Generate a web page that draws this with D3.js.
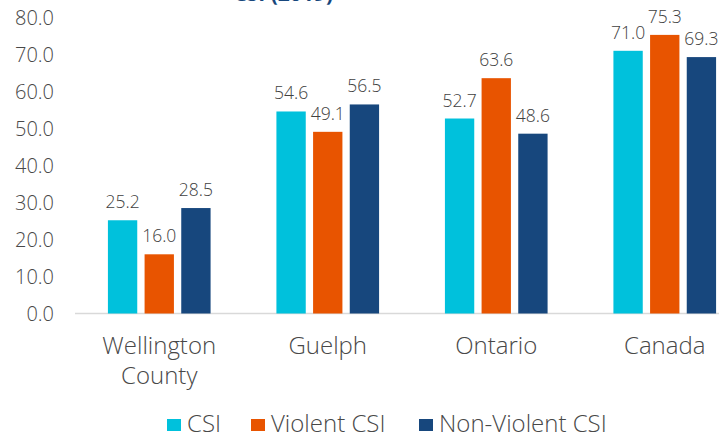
<!DOCTYPE html>
<meta charset="utf-8">
<head>
<style>
body { margin: 0; background: #fff; }
text { font-family: "Open Sans", Lato, sans-serif; font-weight: 300; fill: #484848; }
.tick text { font-size: 20px; font-family: "Open Sans", sans-serif; }
.cat { font-size: 24px; text-anchor: middle; }
.val { font-size: 17.5px; text-anchor: middle; fill: #404040; }
.legend text { font-size: 24px; }
.title { font-size: 21px; font-weight: bold; fill: #17477d; text-anchor: end; }
</style>
<script src="https://d3js.org/d3.v7.min.js"></script>
</head>
<body>
<svg width="719" height="438"></svg>
<script>

var categories = [["Wellington", "County"], ["Guelph"], ["Ontario"], ["Canada"]];
var series = ["CSI", "Violent CSI", "Non-Violent CSI"];
var csi = [25.2, 54.6, 52.7, 71.0];
var violent = [16.0, 49.1, 63.6, 75.3];
var nonViolent = [28.5, 56.5, 48.6, 69.3];
var colors = ["#00c1dc", "#e85400", "#17477d"];
var yTicks = [0, 10, 20, 30, 40, 50, 60, 70, 80];

var svg = d3.select("svg");
var values = [csi, violent, nonViolent];

var x0 = d3.scaleBand()
    .domain(d3.range(categories.length))
    .range([75, 749]);

var x1 = d3.scaleBand()
    .domain(d3.range(series.length))
    .range([0, 110])
    .paddingInner(0.2)
    .paddingOuter(0.1);

var y = d3.scaleLinear()
    .domain([0, 80])
    .range([313.5, 17.5]);

// title, mostly cut off at top
svg.append("text")
    .attr("class", "title")
    .attr("x", 333)
    .attr("y", 1)
    .text("CSI (2019)");

// y axis (labels only)
var yAxis = svg.append("g")
    .attr("transform", "translate(54,0)")
    .call(d3.axisLeft(y).tickValues(yTicks).tickFormat(d3.format(".1f")).tickSize(0).tickPadding(0));
yAxis.select(".domain").remove();
yAxis.selectAll(".tick text").attr("dy", "0.36em");

// baseline
svg.append("line")
    .attr("x1", 75).attr("x2", 719)
    .attr("y1", y(0)).attr("y2", y(0))
    .attr("stroke", "#d9d9d9")
    .attr("stroke-width", 1.5);

var group = svg.append("g")
  .selectAll("g")
  .data(categories)
  .enter().append("g")
    .attr("transform", function(d, i) { return "translate(" + (x0(i) + x0.bandwidth() / 2 - 55) + ",0)"; });

group.selectAll("rect")
  .data(function(d, i) { return series.map(function(s, j) { return {j: j, v: values[j][i]}; }); })
  .enter().append("rect")
    .attr("x", function(d) { return x1(d.j); })
    .attr("width", x1.bandwidth())
    .attr("y", function(d) { return y(d.v); })
    .attr("height", function(d) { return y(0) - y(d.v); })
    .attr("fill", function(d) { return colors[d.j]; });

group.selectAll(".val")
  .data(function(d, i) { return series.map(function(s, j) { return {j: j, v: values[j][i]}; }); })
  .enter().append("text")
    .attr("class", "val")
    .attr("x", function(d) { return x1(d.j) + x1.bandwidth() / 2; })
    .attr("y", function(d) { return y(d.v) - 12; })
    .text(function(d) { return d3.format(".1f")(d.v); });

// category labels
svg.append("g")
  .selectAll("text")
  .data(categories)
  .enter().append("text")
    .attr("class", "cat")
    .attr("x", function(d, i) { return x0(i) + x0.bandwidth() / 2; })
    .attr("y", 354)
  .selectAll("tspan")
  .data(function(d) { return d; })
  .enter().append("tspan")
    .attr("x", function() { return this.parentNode.getAttribute("x"); })
    .attr("dy", function(d, i) { return i ? 30 : 0; })
    .text(function(d) { return d; });

// legend
var legendX = [167, 251, 419];
var legend = svg.append("g")
    .attr("class", "legend")
  .selectAll("g")
  .data(series)
  .enter().append("g")
    .attr("transform", function(d, i) { return "translate(" + legendX[i] + ",0)"; });

legend.append("rect")
    .attr("x", 0).attr("y", 419)
    .attr("width", 14).attr("height", 12)
    .attr("fill", function(d, i) { return colors[i]; });

legend.append("text")
    .attr("x", 20)
    .attr("y", 432)
    .text(function(d) { return d; });

</script>
</body>
